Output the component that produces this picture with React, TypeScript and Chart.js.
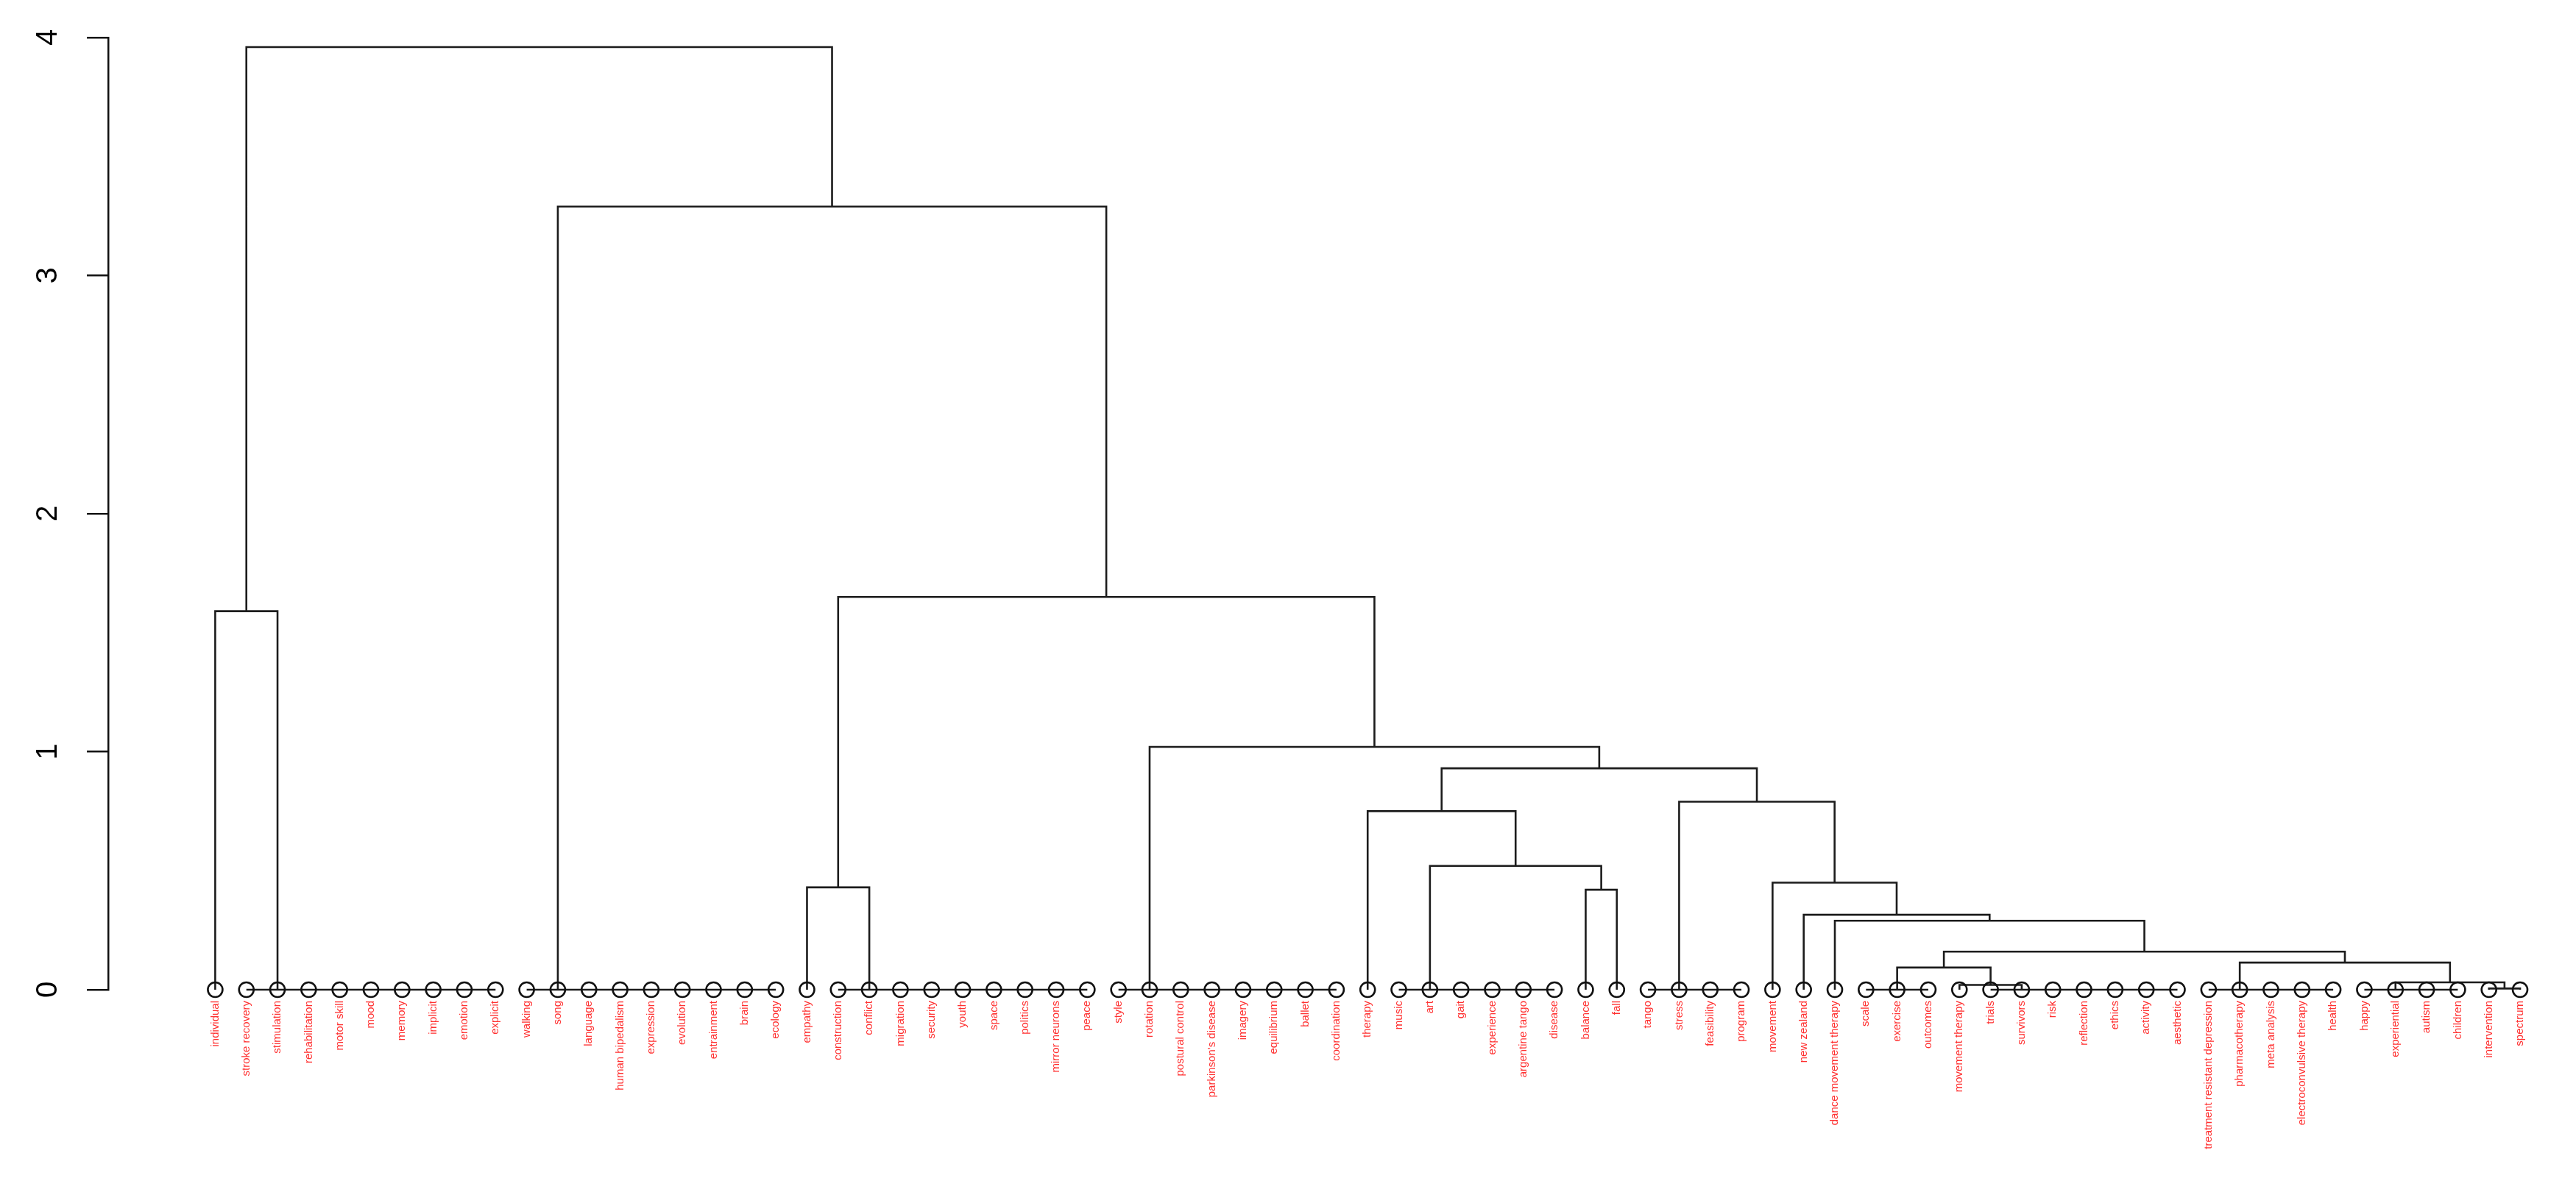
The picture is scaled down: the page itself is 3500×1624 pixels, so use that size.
import React, { useEffect, useRef } from "react";
import { Chart, registerables } from "chart.js";

Chart.register(...registerables);

// Leaf labels, left to right
const leafLabels = [
  "individual", "stroke recovery", "stimulation", "rehabilitation", "motor skill", "mood", "memory", "implicit", "emotion", "explicit",
  "walking", "song", "language", "human bipedalism", "expression", "evolution", "entrainment", "brain", "ecology", "empathy",
  "construction", "conflict", "migration", "security", "youth", "space", "politics", "mirror neurons", "peace", "style",
  "rotation", "postural control", "parkinson's disease", "imagery", "equilibrium", "ballet", "coordination", "therapy", "music", "art",
  "gait", "experience", "argentine tango", "disease", "balance", "fall", "tango", "stress", "feasibility", "program",
  "movement", "new zealand", "dance movement therapy", "scale", "exercise", "outcomes", "movement therapy", "trials", "survivors", "risk",
  "reflection", "ethics", "activity", "aesthetic", "treatment resistant depression", "pharmacotherapy", "meta analysis", "electroconvulsive therapy", "health", "happy",
  "experiential", "autism", "children", "intervention", "spectrum",
];

// Zero-height groups of leaves (first leaf, last leaf, leaf the group hangs from)
const groupFirst = [1, 10, 20, 29, 38, 46, 53, 57, 64, 69];
const groupLast = [9, 18, 28, 36, 43, 49, 55, 63, 68, 72];
const groupAnchor = [2, 11, 21, 30, 39, 47, 54, 58, 65, 70];

// Merges: L = leaf, G = zero-height group, N = earlier merge
const mergeLeft = ["L44", "G4", "L37", "L73", "G9", "G8", "L56", "G6", "N7", "L52", "L51", "L50", "G5", "N2", "G3", "L19", "N15", "G1", "L0", "N18"];
const mergeRight = ["L45", "N0", "N1", "L74", "N3", "N4", "G7", "N6", "N5", "N8", "N9", "N10", "N11", "N12", "N13", "G2", "N14", "N16", "G0", "N17"];
const mergeHeight = [0.42, 0.52, 0.75, 0.005, 0.031, 0.114, 0.02, 0.093, 0.16, 0.29, 0.315, 0.45, 0.79, 0.93, 1.02, 0.43, 1.65, 3.29, 1.59, 3.96];

const yTicks = [0, 1, 2, 3, 4];

const LINE = "#1c1c1c";

function buildTree() {
  const nodeX: number[] = [];
  const ref = (r: string) => {
    const k = r[0];
    const i = parseInt(r.slice(1), 10);
    if (k === "L") return { x: i, h: 0 };
    if (k === "G") return { x: groupAnchor[i], h: 0 };
    return { x: nodeX[i], h: mergeHeight[i] };
  };
  const segs: { x: number; y: number }[][] = [];
  for (let n = 0; n < mergeHeight.length; n++) {
    const l = ref(mergeLeft[n]);
    const r = ref(mergeRight[n]);
    const h = mergeHeight[n];
    nodeX[n] = (l.x + r.x) / 2;
    segs.push([
      { x: l.x, y: l.h },
      { x: l.x, y: h },
      { x: r.x, y: h },
      { x: r.x, y: r.h },
    ]);
  }
  for (let g = 0; g < groupFirst.length; g++) {
    segs.push([
      { x: groupFirst[g], y: 0 },
      { x: groupLast[g], y: 0 },
    ]);
  }
  return segs;
}

const yLabelPlugin = {
  id: "yRotatedLabels",
  afterDraw(chart: any) {
    const s = chart.scales.y;
    const ctx = chart.ctx;
    ctx.save();
    ctx.font = '40px "Liberation Sans", Arial, sans-serif';
    ctx.fillStyle = "#000";
    ctx.textAlign = "center";
    ctx.textBaseline = "middle";
    for (const t of s.ticks) {
      const y = s.getPixelForValue(t.value);
      ctx.save();
      ctx.translate(s.left + 66, y);
      ctx.rotate(-Math.PI / 2);
      ctx.fillText(String(t.value), 0, 0);
      ctx.restore();
    }
    ctx.restore();
  },
};

export default function App() {
  const canvasRef = useRef<HTMLCanvasElement | null>(null);

  useEffect(() => {
    const canvas = canvasRef.current;
    if (!canvas) return;
    const segs = buildTree();
    const lineSets = segs.map((data) => ({
      type: "scatter" as const,
      data,
      showLine: true,
      borderColor: LINE,
      borderWidth: 2.6,
      pointRadius: 0,
      fill: false,
      tension: 0,
      clip: false as any,
      order: 2,
    }));
    const leafSet = {
      type: "scatter" as const,
      data: leafLabels.map((_, i) => ({ x: i, y: 0 })),
      showLine: false,
      pointStyle: "circle",
      pointRadius: 10,
      pointBorderWidth: 2.6,
      pointBorderColor: "#111",
      pointBackgroundColor: "rgba(0,0,0,0)",
      borderColor: "#111",
      backgroundColor: "rgba(0,0,0,0)",
      clip: false as any,
      order: 1,
    };
    const chart = new Chart(canvas, {
      type: "scatter",
      data: { datasets: [...lineSets, leafSet] as any },
      options: {
        responsive: false,
        animation: false,
        events: [],
        layout: { padding: { left: 0, right: 40, top: 51, bottom: 0 } },
        plugins: { legend: { display: false }, tooltip: { enabled: false }, title: { display: false } },
        scales: {
          x: {
            type: "linear",
            min: -3.436,
            max: 74.85,
            afterBuildTicks: (scale: any) => {
              scale.ticks = leafLabels.map((_, i) => ({ value: i }));
            },
            afterFit: (scale: any) => {
              scale.height = 279;
            },
            grid: { display: false, drawTicks: false },
            border: { display: false },
            ticks: {
              autoSkip: false,
              minRotation: 90,
              maxRotation: 90,
              padding: 15,
              color: "#ff3030",
              font: { family: '"Liberation Sans", Arial, sans-serif', size: 15 },
              callback: (v: any) => leafLabels[v] ?? "",
            },
          },
          y: {
            type: "linear",
            min: 0,
            max: 4,
            afterBuildTicks: (scale: any) => {
              scale.ticks = yTicks.map((v) => ({ value: v }));
            },
            afterFit: (scale: any) => {
              scale.width = 147;
            },
            ticks: { display: false },
            grid: { drawOnChartArea: false, drawTicks: true, tickLength: 29, color: "#111", lineWidth: 2.5 },
            border: { display: true, color: "#111", width: 2.5 },
          },
        },
      },
      plugins: [yLabelPlugin],
    });
    return () => chart.destroy();
  }, []);

  return (
    <div style={{ position: "fixed", left: 0, top: 0, width: 3500, height: 1624, background: "#fff" }}>
      <canvas ref={canvasRef} width={3500} height={1624} style={{ width: 3500, height: 1624, display: "block" }} />
    </div>
  );
}
